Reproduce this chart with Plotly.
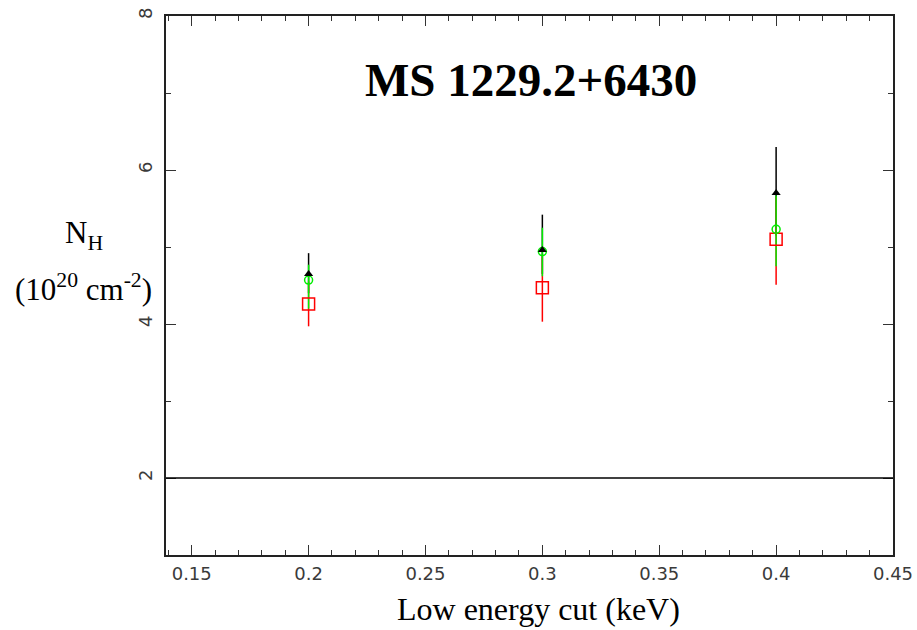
import plotly.graph_objects as go

# data
x_cut = [0.2, 0.3, 0.4]

black_y = [4.65, 4.96, 5.70]
black_hi = [4.92, 5.42, 6.30]
black_lo = [4.40, 4.65, 5.15]

green_y = [4.57, 4.94, 5.23]
green_hi = [4.77, 5.25, 5.67]
green_lo = [4.20, 4.62, 4.75]

red_y = [4.26, 4.47, 5.10]
red_hi = [4.55, 4.90, 5.65]
red_lo = [3.97, 4.03, 4.51]

ref_line_y = 2

title_text = "MS 1229.2+6430"
x_title = "Low energy cut (keV)"

L, R, T, B = 166, 893, 16, 555
W, H = R - L, B - T


def px(xp):
    return (xp - L) / W


def py(yp):
    return (B - yp) / H


def err(y, hi, lo):
    return dict(type="data", symmetric=False,
                array=[h - v for h, v in zip(hi, y)],
                arrayminus=[v - l for v, l in zip(y, lo)],
                width=0, thickness=1.5)


fig = go.Figure()

# error bars (order: black, red, green)
for y, hi, lo, col in [(black_y, black_hi, black_lo, "black"),
                       (red_y, red_hi, red_lo, "#ff0000"),
                       (green_y, green_hi, green_lo, "#00ee00")]:
    e = err(y, hi, lo)
    e["color"] = col
    fig.add_trace(go.Scatter(x=x_cut, y=y, mode="markers",
                             marker=dict(size=1, color="rgba(0,0,0,0)"),
                             error_y=e, showlegend=False, hoverinfo="skip"))

# markers (order: red, green, black)
fig.add_trace(go.Scatter(x=x_cut, y=red_y, mode="markers",
                         marker=dict(symbol="square-open", size=12,
                                     color="#ff0000", line=dict(width=1.5, color="#ff0000")),
                         showlegend=False))
fig.add_trace(go.Scatter(x=x_cut, y=green_y, mode="markers",
                         marker=dict(symbol="circle-open", size=8,
                                     color="#00ee00", line=dict(width=1.5, color="#00ee00")),
                         showlegend=False))
fig.add_trace(go.Scatter(x=x_cut, y=black_y, mode="markers",
                         marker=dict(symbol="triangle-up", size=8, color="black"),
                         showlegend=False))

fig.add_shape(type="line", xref="paper", yref="y", x0=0, x1=1,
              y0=ref_line_y, y1=ref_line_y, line=dict(color="black", width=1.5))

tickfont = dict(family="DejaVu Sans", size=18, color="#3a3a3a")

fig.update_xaxes(range=[0.139, 0.45], dtick=0.05, tick0=0.15,
                 ticks="inside", ticklen=10, tickwidth=1.2, tickcolor="#333",
                 minor=dict(dtick=0.01, tick0=0.15, ticks="inside", ticklen=5,
                            tickwidth=1.2, tickcolor="#333"),
                 showline=True, linecolor="#222", linewidth=1.5, mirror="ticks",
                 showgrid=False, zeroline=False, tickfont=tickfont,
                 ticklabelstandoff=2, automargin=False)
fig.update_yaxes(range=[1, 8], dtick=2, tick0=0,
                 ticks="inside", ticklen=10, tickwidth=1.2, tickcolor="#333",
                 minor=dict(dtick=1, ticks="inside", ticklen=5, tickwidth=1.2, tickcolor="#333"),
                 showline=True, linecolor="#222", linewidth=1.5, mirror="ticks",
                 showgrid=False, zeroline=False, tickfont=tickfont, tickangle=-90,
                 ticklabelstandoff=5, automargin=False)

serif = "Liberation Serif"
fig.add_annotation(text="<b>" + title_text + "</b>", xref="paper", yref="paper",
                   x=px(531), y=py(80), xanchor="center", yanchor="middle", showarrow=False,
                   font=dict(family=serif, size=47, color="black"))
fig.add_annotation(text="N<sub>H</sub>", xref="paper", yref="paper",
                   x=px(84), y=py(235), xanchor="center", yanchor="middle", showarrow=False,
                   font=dict(family=serif, size=31, color="black"))
fig.add_annotation(text="(10<sup>20</sup> cm<sup>-2</sup>)", xref="paper", yref="paper",
                   x=px(83), y=py(287), xanchor="center", yanchor="middle", showarrow=False,
                   font=dict(family=serif, size=31, color="black"))
fig.add_annotation(text=x_title, xref="paper", yref="paper",
                   x=px(538), y=py(609), xanchor="center", yanchor="middle", showarrow=False,
                   font=dict(family=serif, size=32, color="black"))

fig.update_layout(width=917, height=630, plot_bgcolor="white", paper_bgcolor="white",
                  margin=dict(l=L, r=917 - R, t=T, b=630 - B, autoexpand=False),
                  showlegend=False)

fig.write_html("out.html", config={"displayModeBar": False},
               post_script="document.body.style.margin='0';document.body.style.overflow='hidden';")
